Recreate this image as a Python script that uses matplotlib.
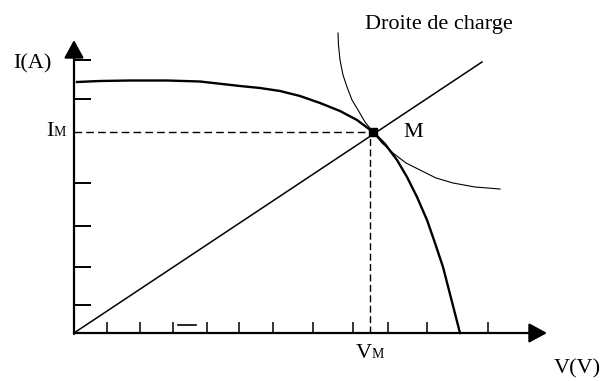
import matplotlib
matplotlib.use("Agg")
import matplotlib.pyplot as plt

# I-V characteristic of the PV generator (V, I)
iv_v = [0.3, 2.6, 5.6, 9.3, 12.6, 16.6, 18.6, 20.6, 22.6, 24.6, 26.6,
        28.3, 29.9, 31.1, 32.3, 33.3, 34.3, 35.3, 36.1, 36.9, 37.7, 38.6]
iv_i = [25.1, 25.2, 25.25, 25.25, 25.15, 24.7, 24.5, 24.2, 23.7, 23.0,
        22.2, 21.3, 20.1, 18.9, 17.3, 15.6, 13.6, 11.3, 9.0, 6.6, 3.5, 0.0]

# constant power curve through the operating point
pw_v = [26.4, 26.45, 26.6, 26.9, 27.3, 27.8, 28.4, 29.1, 29.9, 30.8,
        31.9, 33.2, 34.6, 36.2, 37.9, 40.1, 42.6]
pw_i = [30.0, 28.8, 27.3, 25.8, 24.6, 23.3, 22.3, 21.1, 20.1, 19.0,
        18.0, 17.0, 16.3, 15.5, 15.0, 14.6, 14.4]

# load line (droite de charge)
load_v = [0.0, 40.8]
load_i = [0.0, 27.1]

# operating point M
v_m = 29.6
i_m = 20.1

# tick positions along both axes
x_ticks = [3.3, 6.6, 9.9, 13.3, 16.5, 19.9, 23.9, 27.9, 31.4, 35.3, 41.4]
y_ticks = [2.8, 6.6, 10.7, 15.0, 23.4, 27.3]

x_end = 47.3
y_end = 29.3

serif = "Liberation Serif"

fig = plt.figure(figsize=(6.05, 3.81), dpi=100)
ax = fig.add_axes([0, 0, 1, 1])
ax.set_xlim(-7.4, 53.1)
ax.set_ylim(-4.8, 33.3)
ax.axis("off")

# axes with arrow heads
arrow = dict(arrowstyle="-|>,head_length=0.55,head_width=0.3", color="k",
             lw=1.6, shrinkA=0, shrinkB=0, mutation_scale=20)
ax.annotate("", xy=(x_end, 0), xytext=(0, 0), arrowprops=arrow)
ax.annotate("", xy=(0, y_end), xytext=(0, -0.1), arrowprops=arrow)

for t in x_ticks:
    ax.plot([t, t], [0, 1.1], color="k", lw=1.1, solid_capstyle="butt")
for t in y_ticks:
    ax.plot([0, 1.7], [t, t], color="k", lw=1.4, solid_capstyle="butt")
ax.plot([10.4, 12.2], [0.8, 0.8], color="k", lw=1.2)

# curves
ax.plot(iv_v, iv_i, color="k", lw=1.7, solid_joinstyle="round")
ax.plot(load_v, load_i, color="k", lw=1.1)
ax.plot(pw_v, pw_i, color="k", lw=0.8, solid_joinstyle="round")

# projections of M
ax.plot([0, v_m + 0.3], [i_m, i_m], color="k", lw=1.0,
        linestyle=(0, (5.5, 3)))
ax.plot([v_m, v_m], [0, i_m], color="k", lw=1.0, linestyle=(0, (5, 2.5)))
ax.plot([v_m + 0.3], [i_m], marker="s", color="k", markersize=5.5)

# labels
fs = 16
ax.text(29.1, 30.4, "Droite de charge", family=serif, fontsize=fs,
        va="baseline", ha="left")
ax.text(-6.1, 26.5, "I(A)", family=serif, fontsize=fs, va="baseline")
ax.text(48.0, -4.0, "V(V)", family=serif, fontsize=fs, va="baseline")
ax.text(32.9, 19.6, "M", family=serif, fontsize=fs, va="baseline")

ax.text(-2.75, 19.7, "I", family=serif, fontsize=fs, va="baseline")
ax.text(-2.05, 19.7, "M", family=serif, fontsize=10, va="baseline")
ax.text(28.2, -2.5, "V", family=serif, fontsize=fs, va="baseline")
ax.text(29.75, -2.5, "M", family=serif, fontsize=10, va="baseline")

fig.savefig("out.png", dpi=100)
